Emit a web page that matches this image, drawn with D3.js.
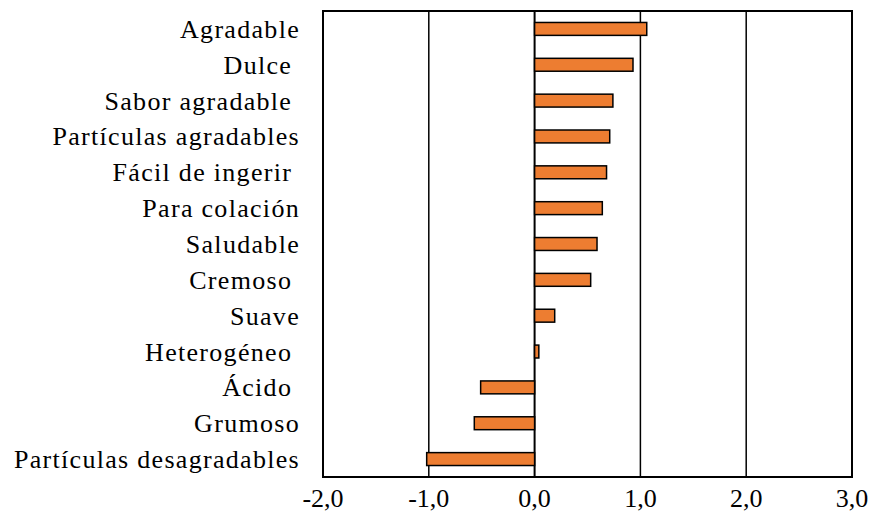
<!DOCTYPE html>
<html><head><meta charset="utf-8">
<script src="https://cdn.jsdelivr.net/npm/d3@7"></script>
</head><body>
<script>
const categories = ["Agradable","Dulce ","Sabor agradable ","Partículas agradables","Fácil de ingerir ","Para colación","Saludable","Cremoso ","Suave","Heterogéneo ","Ácido ","Grumoso","Partículas desagradables"];
const values = [1.06,0.93,0.74,0.71,0.68,0.64,0.59,0.53,0.19,0.04,-0.51,-0.57,-1.02];
const ticks = [-2,-1,0,1,2,3];
const xDomain = [-2,3];

const W=876,H=528, m={l:323,r:24,t:11,b:51};
const FONT='"Liberation Serif", monospace';
const svg=d3.select("body").append("svg").attr("width",W-16).attr("height",H-16)
 .attr("viewBox",`8 8 ${W-16} ${H-16}`).attr("overflow","visible");
const x=d3.scaleLinear().domain(xDomain).range([m.l,W-m.r]);
const y=d3.scaleBand().domain(categories).range([m.t,H-m.b]).paddingInner(0.64).paddingOuter(0.32);

svg.append("g").selectAll("line").data(ticks.filter(t=>t>xDomain[0]&&t<xDomain[1])).join("line")
 .attr("x1",d=>x(d)).attr("x2",d=>x(d)).attr("y1",m.t).attr("y2",H-m.b)
 .attr("stroke","#000").attr("stroke-width",d=>d===0?2:1.5);
svg.append("g").selectAll("rect").data(values).join("rect")
 .attr("x",d=>x(Math.min(0,d))).attr("width",d=>Math.abs(x(d)-x(0)))
 .attr("y",(d,i)=>y(categories[i])).attr("height",y.bandwidth())
 .attr("fill","#ED7D31").attr("stroke","#000").attr("stroke-width",1.5);
svg.append("rect").attr("x",m.l).attr("y",m.t).attr("width",W-m.r-m.l).attr("height",H-m.b-m.t)
 .attr("fill","none").attr("stroke","#000").attr("stroke-width",2);
const yc=d3.scaleBand().domain(categories).range([m.t,H-m.b]);
svg.selectAll("text.cat").data(categories).join("text").attr("class","cat")
 .attr("x",300).attr("y",d=>yc(d)+yc.bandwidth()/2+9)
 .attr("text-anchor","end").attr("fill","#000")
 .attr("font-size",26).style("font-family",FONT).attr("letter-spacing",1.3).attr("xml:space","preserve")
 .text(d=>d);
const fmt=d=>d3.format(".1f")(d).replace(".",",").replace("−","-");
svg.selectAll("text.tick").data(ticks).join("text").attr("class","tick")
 .attr("x",d=>x(d)).attr("y",507).attr("text-anchor","middle").attr("fill","#000")
 .attr("font-size",26).style("font-family",FONT)
 .text(fmt);
</script>
</body></html>
